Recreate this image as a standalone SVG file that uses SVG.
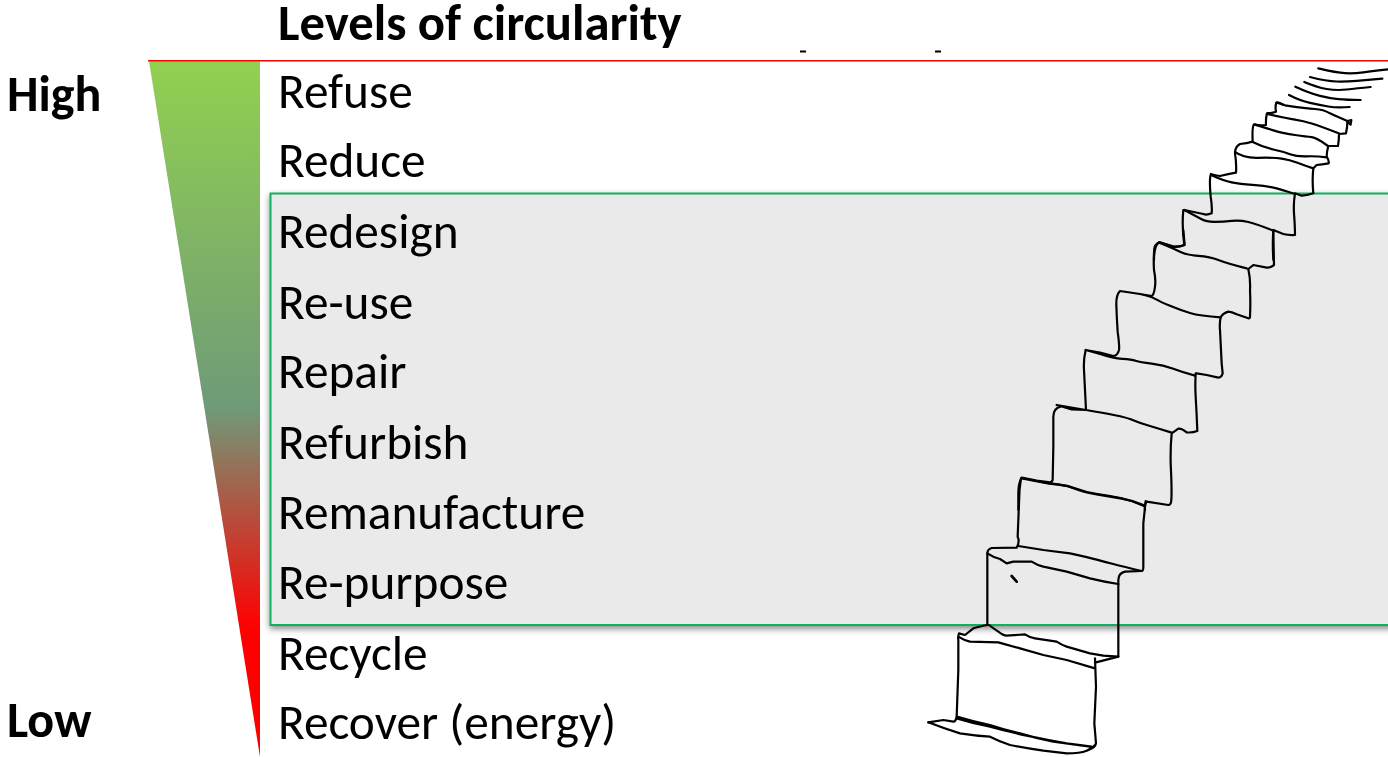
<svg xmlns="http://www.w3.org/2000/svg" width="1388" height="757" viewBox="0 0 1388 757">
<style>
text{font-family:"Carlito","Lato","Open Sans","Liberation Sans",sans-serif;fill:#000}
.l{font-size:49.300px}
.b{font-size:50px;font-weight:700}
.s{fill:none;stroke:#000;stroke-width:2.200;stroke-linejoin:round;stroke-linecap:round;vector-effect:non-scaling-stroke}
</style>
<defs>
<linearGradient id="g" x1="0" y1="0" x2="0" y2="1">
<stop offset="0" stop-color="#92D050"/>
<stop offset=".5" stop-color="#6F9A78"/>
<stop offset=".815" stop-color="#FF0000"/>
<stop offset="1" stop-color="#FF0000"/>
</linearGradient>
<filter id="ds" x="-2%" y="-2%" width="104%" height="106%">
<feDropShadow dx="0" dy="3" stdDeviation="3" flood-color="#000" flood-opacity=".45"/>
</filter>
</defs>
<g id="wedge"><polygon points="149,61 260,61 260,757" fill="url(#g)"/></g>
<g id="box">
<rect x="270.500" y="193.500" width="1130" height="431.500" fill="#EAEAEA" stroke="#10B05C" stroke-width="2" filter="url(#ds)"/>
</g>
<line id="topline" x1="148" y1="60.700" x2="1388" y2="60.700" stroke="#FF0000" stroke-width="1.500"/>
<g id="labels">
<text class="b" x="278" y="40" style="font-size:50.700px">Levels of circularity</text>
<text class="b" x="7" y="111">High</text>
<text class="b" x="7" y="737">Low</text>
<text class="l" x="278" y="108">Refuse</text>
<text class="l" x="278" y="177">Reduce</text>
<text class="l" x="278" y="248">Redesign</text>
<text class="l" x="278" y="319">Re-use</text>
<text class="l" x="278" y="388">Repair</text>
<text class="l" x="278" y="459">Refurbish</text>
<text class="l" x="278" y="529">Remanufacture</text>
<text class="l" x="278" y="599">Re-purpose</text>
<text class="l" x="278" y="670">Recycle</text>
<text class="l" x="278" y="739">Recover (energy)</text>
</g>
<g id="connectors">
<path d="M800 51.500H806M935 51.500H941" stroke="#000" stroke-width="2" fill="none"/>
<g transform="translate(1140 40) scale(.33333)">
<path class="s" d="M535 85Q590 98 615 99.500Q640 101 670 97Q700 93 744 88M510 111Q560 124 590 124.500Q620 125 650 122.500Q680 120 727 116M493 126Q530 142 560 147Q590 152 620 148.500Q650 145 692 141M466 140Q510 160 540 167.500Q570 175 595 177.500Q620 180 662 180M447 165Q480 182 510 188.500Q540 195 565 199.500Q590 204 629 201"/>
<path class="s" d="M428 194Q415 184 409 188Q405 200 408 215Q395 220 382 219Q377 230 378 255Q360 258 342 253Q336 258 338 305Q320 310 300 312Q285 320 285 340Q290 370 288 398Q265 402 240 408Q225 406 213 402Q207 415 212 470Q217 500 215 520Q200 526 190 522L133 510M130 510Q125 560 133 615Q118 622 100 620L58 606Q42 615 42 660"/>
<path class="s" d="M410 188Q425 192 435 196Q500 206 525 207Q550 208 570 220Q590 230 622 243L634 240L632 254L622 245Q622 262 618 280L597 282Q597 300 594 318L565 318Q560 335 560 350Q568 362 566 370Q545 373 530 375L520 385Q516 420 520 460Q500 467 485 467L465 460Q460 490 462 520Q465 560 465 585Q445 586 430 582L400 570Q397 610 400 660"/>
<path class="s" d="M380 222Q440 235 465 239Q490 243 515 250.500Q540 258 596 280M345 254Q380 265 405 272.500Q430 280 465 285Q500 290 515 291.500Q530 293 564 318M338 306Q370 322 400 328.500Q430 335 450 342.500Q470 350 500 349Q530 348 560 352M285 336Q310 355 355 353.500Q400 352 425 356Q450 360 470 367.500Q490 375 520 385M213 405Q250 422 275 427Q300 432 337 434.500Q375 437 397 442Q420 447 465 462M133 510Q170 530 185 538Q200 546 225 545.500Q250 545 275 542.500Q300 540 325 546Q350 552 400 572"/>
</g>
<g transform="translate(1000 230) scale(.33333)">
<path class="s" d="M550 0L554 45Q540 50 520 50L478 38M478 38Q520 55 540 65Q560 75 595 77.500Q630 80 655 90Q680 100 740 115M820 0L822 105Q810 114 800 113L760 105L745 117Q752 150 750 180Q752 220 750 260Q750 265 745 265L710 253Q695 245 685 245Q668 250 662 262Q658 280 660 300L665 400L668 430Q665 442 655 443L620 435L590 430"/>
<path class="s" d="M478 38Q465 42 463 55Q460 90 462 120Q468 150 465 170Q462 195 455 198L420 192L360 183M360 183L420 192Q455 200 467 207.500Q480 215 510 227.500Q540 240 570 249Q600 258 662 262M360 183Q348 195 349 225Q350 260 353 305Q359 350 357 360Q352 378 340 378L300 368L257 360M257 360L300 372Q340 385 367 386.500Q395 388 407 392.500Q420 397 455 401Q490 405 520 416.500Q550 428 585 437"/>
<path class="s" d="M587 430Q585 470 587 500Q590 550 592 603Q575 609 560 607Q545 595 535 596L515 610Q511 650 512 700Q516 780 514 810Q513 825 505 825L440 815Q433 820 435 840M257 360Q250 390 252 420L258 540L215 538L170 525M182 530Q160 535 160 560L160 650L158 750Q155 757 150 757L110 752L65 743M170 525L258 540Q365 557 392 568Q420 580 450 588Q480 597 515 608M65 743Q140 760 172 763Q205 767 232 777Q260 788 292 792Q325 797 362 804Q400 812 432 828M65 743Q55 760 55 790L55 840"/>
</g>
<g transform="translate(910 470) scale(.33333)">
<path class="s" d="M335 25Q420 42 447 44Q475 47 497 57Q520 67 560 73Q600 80 635 86Q670 92 700 105M707 93L700 160L700 290Q700 303 695 303L645 305Q625 310 625 330L625 450L625 560M333 25Q327 60 327 100L323 200Q330 215 320 233L245 234Q232 238 232 250L232 350L232 465"/>
<path class="s" d="M325 228L400 240L480 250Q540 263 560 269Q580 275 610 282Q640 290 695 303M232 250Q250 262 270 267L290 280L310 275L365 275Q380 285 400 290L470 305L540 325Q580 335 625 342"/>
<path class="s" d="M232 465Q205 470 190 475L165 495L147 490Q143 500 145 510L145 600L140 740Q137 755 130 755L100 750L55 757M237 465Q250 475 265 485Q280 497 290 497L345 493Q360 503 375 505L440 515Q455 525 470 530L540 550L580 557L625 560M145 500Q160 510 180 515L265 517L330 535L400 555L470 570L555 595M555 565L558 650L553 760L558 820Q555 832 545 835M555 578L625 560"/>
<path class="s" d="M140 740Q190 755 240 765Q285 780 330 790Q380 805 430 815L540 830M140 745Q190 760 240 770Q295 785 350 797Q410 810 470 820L545 830M55 757Q100 775 150 790Q195 797 240 800Q270 815 300 825Q350 835 400 842L470 850Q510 850 530 842Q548 835 555 825"/>
<path d="M305 318L320 335" fill="none" stroke="#000" stroke-width="8" stroke-linecap="round"/>
</g>
</g>
</svg>
